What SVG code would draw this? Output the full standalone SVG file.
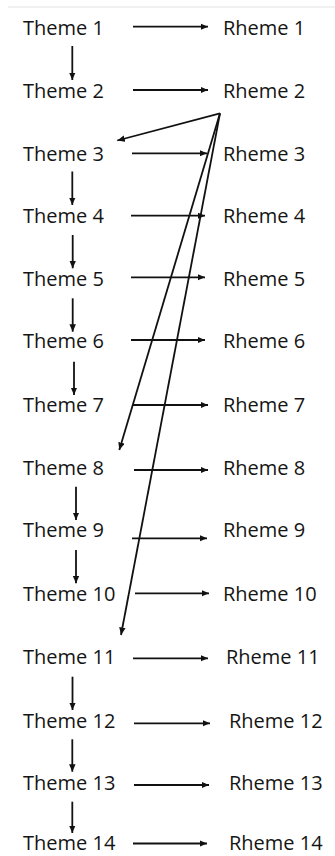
<svg xmlns="http://www.w3.org/2000/svg" width="335" height="856" viewBox="0 0 335 856">
<style>
text{font-family:"Open Sans","Noto Sans",sans-serif;font-size:20px;fill:#151515}
.c line{stroke:#111;stroke-width:1.8;marker-end:url(#ah)}
</style>
<defs>
<marker id="ah" markerUnits="userSpaceOnUse" markerWidth="9" markerHeight="7" refX="7.5" refY="3.25" orient="auto"><path d="M0,0 L7.5,3.25 L0,6.5 z" fill="#111"/></marker>
</defs>
<rect width="335" height="856" fill="#fff"/>
<line x1="8" y1="7" x2="335" y2="7" stroke="#e2e2e2" stroke-width="1"/>
<g id="theme1"><text x="23" y="34.5">Theme 1</text></g>
<g id="theme2"><text x="23" y="98.3">Theme 2</text></g>
<g id="theme3"><text x="23" y="161">Theme 3</text></g>
<g id="theme4"><text x="23" y="223.3">Theme 4</text></g>
<g id="theme5"><text x="23" y="285.7">Theme 5</text></g>
<g id="theme6"><text x="23" y="348.3">Theme 6</text></g>
<g id="theme7"><text x="23" y="411.7">Theme 7</text></g>
<g id="theme8"><text x="23" y="475">Theme 8</text></g>
<g id="theme9"><text x="23" y="537.3">Theme 9</text></g>
<g id="theme10"><text x="23" y="600.7">Theme 10</text></g>
<g id="theme11"><text x="23" y="664">Theme 11</text></g>
<g id="theme12"><text x="23" y="728.3">Theme 12</text></g>
<g id="theme13"><text x="23" y="790">Theme 13</text></g>
<g id="theme14"><text x="23" y="849.5">Theme 14</text></g>
<g id="rheme1"><text x="223" y="34.5">Rheme 1</text></g>
<g id="rheme2"><text x="223" y="98.3">Rheme 2</text></g>
<g id="rheme3"><text x="223" y="161">Rheme 3</text></g>
<g id="rheme4"><text x="223" y="223.3">Rheme 4</text></g>
<g id="rheme5"><text x="223" y="285.7">Rheme 5</text></g>
<g id="rheme6"><text x="223" y="348.3">Rheme 6</text></g>
<g id="rheme7"><text x="223" y="411.7">Rheme 7</text></g>
<g id="rheme8"><text x="223" y="475">Rheme 8</text></g>
<g id="rheme9"><text x="223" y="537.3">Rheme 9</text></g>
<g id="rheme10"><text x="223" y="600.7">Rheme 10</text></g>
<g id="rheme11"><text x="226" y="664">Rheme 11</text></g>
<g id="rheme12"><text x="229" y="728.3">Rheme 12</text></g>
<g id="rheme13"><text x="229" y="790">Rheme 13</text></g>
<g id="rheme14"><text x="229" y="849.5">Rheme 14</text></g>
<g id="connectors" class="c">
<line x1="133" y1="26.7" x2="208" y2="26.7"/>
<line x1="133" y1="90" x2="208" y2="90"/>
<line x1="132" y1="153.3" x2="207" y2="153.3"/>
<line x1="131" y1="215.7" x2="205" y2="215.7"/>
<line x1="131" y1="277.3" x2="205" y2="277.3"/>
<line x1="131" y1="340" x2="205" y2="340"/>
<line x1="133" y1="405" x2="208" y2="405"/>
<line x1="134" y1="470" x2="208" y2="470"/>
<line x1="132" y1="538.3" x2="207" y2="538.3"/>
<line x1="135" y1="593.3" x2="209" y2="593.3"/>
<line x1="133" y1="658.3" x2="208" y2="658.3"/>
<line x1="134" y1="723.3" x2="210" y2="723.3"/>
<line x1="134" y1="785" x2="209" y2="785"/>
<line x1="133" y1="843.5" x2="207" y2="843.5"/>
<line x1="72.3" y1="46" x2="72.3" y2="80"/>
<line x1="72.3" y1="171.5" x2="72.3" y2="205"/>
<line x1="72.7" y1="235" x2="72.7" y2="268.3"/>
<line x1="72.7" y1="298.3" x2="72.7" y2="331.7"/>
<line x1="74" y1="361.7" x2="74" y2="395"/>
<line x1="76" y1="486.7" x2="76" y2="520"/>
<line x1="76" y1="550" x2="76" y2="583.3"/>
<line x1="72.5" y1="676.7" x2="72.5" y2="710"/>
<line x1="72.3" y1="739.3" x2="72.3" y2="771.7"/>
<line x1="72.3" y1="801.7" x2="72.3" y2="833"/>
<line x1="220" y1="113.3" x2="117.3" y2="140.5"/>
<line x1="220" y1="113.3" x2="119.3" y2="450"/>
<line x1="220" y1="113.3" x2="121" y2="635"/>
</g>
</svg>
